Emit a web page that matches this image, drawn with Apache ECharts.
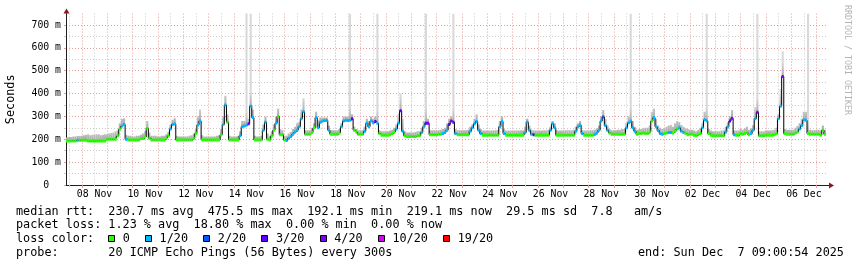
<!DOCTYPE html>
<html><head><meta charset="utf-8">
<script src="https://cdn.jsdelivr.net/npm/echarts@6/dist/echarts.min.js"></script>
<style>html,body{margin:0;padding:0;background:#fff}#c{width:857px;height:267px}</style>
</head><body><div id="c"></div>
<script>
// ---------- data (2-hour samples, first sample centred on Nov 7 10:00) ----------
const startTime = Date.UTC(2025, 10, 7, 9, 0);
const endTime = Date.UTC(2025, 11, 7, 9, 0);
const stepHours = 2;

const median = [
  193,193,193,193,193,196,196,                               // Nov 07 (10h..22h)
  196,196,196,192,192,192,192,192,192,192,192,192,           // Nov 08
  200,200,200,200,200,215,245,258,265,200,197,197,           // Nov 09
  197,197,197,197,203,203,210,248,205,197,197,197,           // Nov 10
  197,197,197,197,205,215,245,265,267,197,197,197,           // Nov 11
  197,197,197,197,197,205,225,262,280,198,197,197,           // Nov 12
  197,197,197,197,197,197,220,265,350,275,197,197,           // Nov 13
  197,197,197,215,255,258,262,268,345,295,197,197,           // Nov 14
  197,197,240,275,200,197,215,240,270,300,220,220,           // Nov 15
  197,195,205,212,222,232,240,255,290,320,222,222,           // Nov 16
  222,230,250,295,250,275,280,282,282,240,222,222,           // Nov 17
  222,222,228,255,280,283,282,283,290,240,232,222,           // Nov 18
  222,222,235,270,255,280,272,278,270,225,218,218,           // Nov 19
  218,218,220,225,232,245,270,325,235,215,212,212,           // Nov 20
  212,212,212,215,215,230,255,270,270,220,220,220,           // Nov 21
  220,222,222,225,230,240,265,280,275,225,220,220,           // Nov 22
  220,220,220,220,235,250,268,278,240,225,218,218,           // Nov 23
  218,218,218,218,218,218,255,278,225,218,218,218,           // Nov 24
  218,218,218,218,218,218,230,275,240,222,220,218,           // Nov 25
  218,218,218,218,218,218,240,268,250,218,218,218,           // Nov 26
  218,218,218,218,218,218,235,255,262,225,218,218,           // Nov 27
  218,218,218,222,228,240,280,298,260,240,228,222,           // Nov 28
  222,222,222,222,222,222,250,272,280,250,235,222,           // Nov 29
  225,225,228,225,225,232,280,295,255,238,225,222,           // Nov 30
  225,228,230,230,228,235,245,250,235,230,225,220,           // Dec 01
  222,222,218,215,222,225,250,285,280,225,218,215,           // Dec 02
  215,215,215,215,215,232,255,280,292,220,218,218,           // Dec 03
  225,222,225,230,220,225,240,290,318,215,215,215,           // Dec 04
  218,218,218,218,220,225,290,345,475,225,222,222,           // Dec 05
  222,222,228,232,245,260,285,283,225,222,222,222,           // Dec 06
  222,222,218,240,222                                        // Dec 07 (0h..8h)
];

const loss = [
  0,0,0,0,0,1,0,
  0,0,0,0,0,0,0,0,0,0,0,0,
  0,0,0,0,0,0,0,1,1,1,0,0,
  0,0,0,0,0,0,0,0,0,0,0,0,
  0,0,0,0,0,0,1,1,1,0,0,0,
  0,0,0,0,0,0,0,1,1,0,0,0,
  0,0,0,0,0,0,0,1,1,0,0,0,
  0,0,0,1,1,1,1,3,1,1,0,0,
  0,0,1,1,0,0,0,0,1,0,0,0,
  0,1,1,1,1,1,1,1,1,1,0,0,
  0,0,0,1,1,1,1,1,1,1,0,0,
  0,0,0,1,1,1,1,1,3,0,0,0,
  0,0,1,1,1,1,1,3,1,0,0,0,
  0,0,0,0,0,1,1,3,1,0,0,0,
  0,0,0,0,0,1,1,3,4,0,0,0,
  0,0,0,1,1,1,3,4,3,1,0,0,
  0,0,0,0,1,1,1,1,1,1,0,0,
  0,0,0,0,0,0,1,1,1,0,0,0,
  0,0,0,0,0,0,1,1,1,1,3,0,
  0,0,0,0,0,0,1,1,1,0,0,0,
  0,0,0,0,0,0,1,1,1,1,0,0,
  0,0,0,1,1,1,1,2,1,1,0,0,
  0,0,0,0,0,0,1,1,1,1,1,0,
  0,0,0,0,0,0,0,1,1,1,1,1,
  0,0,1,1,0,0,0,1,1,1,0,0,
  0,0,0,0,0,0,1,1,1,0,0,0,
  0,0,0,0,0,1,1,3,4,1,0,0,
  0,0,0,0,0,1,1,1,4,0,0,0,
  0,0,0,0,0,0,1,1,4,0,0,0,
  0,0,0,0,1,1,1,1,0,0,0,0,
  0,0,0,0,0
];

const smokeHi = [
  208,210,210,212,212,214,214,
  215,218,220,222,218,220,220,222,222,218,220,222,
  222,225,228,230,235,240,270,290,292,220,215,215,
  212,212,215,215,220,225,235,280,230,215,215,215,
  212,212,215,215,222,232,265,285,292,215,212,212,
  212,212,212,215,218,225,245,300,330,218,212,212,
  212,212,212,212,215,218,245,300,390,310,215,212,
  212,212,215,235,280,280,750,290,750,330,215,212,
  212,215,265,300,225,215,235,265,300,335,245,240,
  215,215,225,232,245,255,270,275,330,380,240,240,
  240,250,270,320,285,295,295,295,295,260,240,240,
  240,240,245,270,300,300,300,750,310,255,245,240,
  240,240,255,290,280,300,290,300,750,240,235,235,
  235,235,238,242,250,265,310,400,290,235,230,230,
  230,230,232,235,235,250,280,750,290,240,240,240,
  240,240,242,245,250,270,290,300,750,245,240,240,
  240,240,240,242,255,265,290,310,265,245,238,238,
  238,238,238,240,240,242,280,300,245,238,238,238,
  238,238,238,238,240,240,255,290,260,242,240,238,
  238,238,238,240,240,242,255,280,270,240,238,238,
  238,240,240,240,240,242,255,270,280,240,238,238,
  238,240,240,242,248,260,300,328,290,260,245,240,
  240,240,242,242,245,245,270,300,750,280,255,242,
  245,245,248,250,250,260,320,335,290,260,250,245,
  248,255,260,262,255,270,280,275,262,255,248,245,
  242,242,238,235,242,248,270,320,750,245,238,235,
  235,235,235,238,240,255,275,300,328,240,238,238,
  245,242,248,255,242,248,262,340,750,235,235,235,
  238,238,238,240,242,250,310,420,585,245,242,242,
  242,242,250,258,270,290,320,320,750,242,240,240,
  242,242,240,260,242
];

const xLabelDays = ['2025-11-08','2025-11-10','2025-11-12','2025-11-14','2025-11-16','2025-11-18','2025-11-20',
  '2025-11-22','2025-11-24','2025-11-26','2025-11-28','2025-11-30','2025-12-02','2025-12-04','2025-12-06'];
const xLabels = ['08 Nov','10 Nov','12 Nov','14 Nov','16 Nov','18 Nov','20 Nov',
  '22 Nov','24 Nov','26 Nov','28 Nov','30 Nov','02 Dec','04 Dec','06 Dec'];
const yTicks = [0,100,200,300,400,500,600,700];
const yMinorTicks = [50,150,250,350,450,550,650];
const yMax = 750;

const lossLevels = [0,1,2,3,4,10,19];
const lossLabels = ['0','1/20','2/20','3/20','4/20','10/20','19/20'];
const lossColors = ['#26ff00','#00b8ff','#0059ff','#5e00ff','#7e00ff','#dd00ff','#ff0000'];

const statsLine1 = 'median rtt:  230.7 ms avg  475.5 ms max  192.1 ms min  219.1 ms now  29.5 ms sd  7.8   am/s';
const statsLine2 = 'packet loss: 1.23 % avg  18.80 % max  0.00 % min  0.00 % now';
const lossTitle = 'loss color:';
const probeLine = 'probe:       20 ICMP Echo Pings (56 Bytes) every 300s';
const endLine = 'end: Sun Dec  7 09:00:54 2025';
const sideText = 'RRDTOOL / TOBI OETIKER';

// ---------- build ----------
const HOUR = 3600000, DAY = 24 * HOUR;
const halfStep = stepHours * HOUR / 2;
function lossColor(l) {
  let c = lossColors[0];
  for (let k = 0; k < lossLevels.length; k++) if (l >= lossLevels[k]) c = lossColors[k];
  return c;
}
const rows = median.map((v, i) => [startTime + halfStep + i * stepHours * HOUR, v, loss[i], smokeHi[i]]);

const midnights = [], noons = [];
for (let t = Date.UTC(2025, 10, 7); t <= endTime; t += DAY) {
  if (t >= startTime) midnights.push(t);
  if (t + DAY / 2 >= startTime && t + DAY / 2 <= endTime) noons.push(t + DAY / 2);
}
const labelTimes = xLabelDays.map(d => Date.parse(d + 'T12:00:00Z'));
const labelMap = {};
labelTimes.forEach((t, i) => labelMap[t] = xLabels[i]);

const MONO = '"DejaVu Sans Mono", monospace';
const major = '#e49c9c', minor = '#cbcbcb', axisCol = '#202020', arrowCol = '#8b1a1a';

const chart = echarts.init(document.getElementById('c'), null, {renderer: 'canvas'});

const graphics = [];
function txt(x, y, s, extra) {
  graphics.push(Object.assign({type: 'text', x: x, y: y, silent: true,
    style: {text: s, font: '11.8px ' + MONO, fill: '#000', align: 'left', verticalAlign: 'middle',
            textAlign: 'left', textVerticalAlign: 'middle'}}, extra || {}));
}
txt(16, 211.5, statsLine1);
txt(16, 225.4, statsLine2);
txt(16, 239.3, lossTitle);
txt(16, 253.3, probeLine);
txt(638, 253.3, endLine);
let lx = 108;
lossLabels.forEach((lab, k) => {
  graphics.push({type: 'rect', silent: true, shape: {x: Math.round(lx) + 0.5, y: 235.5, width: 6, height: 6},
    style: {fill: lossColors[k], stroke: '#000', lineWidth: 1}});
  const tx = lx + 14.7;
  txt(tx, 239.3, lab);
  lx = tx + lab.length * 7.1 + 15.1;
});
graphics.push({type: 'text', x: 847, y: 5, rotation: -Math.PI / 2, silent: true,
  style: {text: sideText, font: '8.3px ' + MONO, fill: '#b4b4b4', align: 'left', verticalAlign: 'middle',
          textAlign: 'left', textVerticalAlign: 'middle'}});
// axis arrows
graphics.push({type: 'polygon', silent: true, shape: {points: [[66.5, 8.5], [63.5, 13.6], [69.5, 13.6]]}, style: {fill: arrowCol}});
graphics.push({type: 'line', silent: true, shape: {x1: 826, y1: 185.5, x2: 829, y2: 185.5}, style: {stroke: axisCol, lineWidth: 1}});
graphics.push({type: 'polygon', silent: true, shape: {points: [[834, 185.5], [829, 182.5], [829, 188.5]]}, style: {fill: arrowCol}});

const option = {
  animation: false,
  backgroundColor: '#ffffff',
  grid: {left: 66, right: 31, top: 13.6, bottom: 82, containLabel: false, outerBoundsMode: 'none'},
  xAxis: [
    {type: 'value', min: startTime, max: endTime, position: 'bottom',
     axisLine: {show: true, onZero: false, lineStyle: {color: axisCol, width: 1}},
     axisTick: {show: true, customValues: midnights, length: 3, lineStyle: {color: major}},
     axisLabel: {show: true, customValues: labelTimes, formatter: v => labelMap[v] || '',
       fontFamily: MONO, fontSize: 9.8, color: '#000', margin: 4, hideOverlap: false},
     splitLine: {show: true, lineStyle: {color: major, type: [1, 2], width: 1}}},
    {type: 'value', min: startTime, max: endTime, position: 'bottom',
     axisLine: {show: false}, axisLabel: {show: false},
     axisTick: {show: true, customValues: noons, length: 2, lineStyle: {color: minor}},
     splitLine: {show: true, lineStyle: {color: minor, type: [1, 2], width: 1}}}
  ],
  yAxis: [
    {type: 'value', min: 0, max: yMax, position: 'left',
     axisLine: {show: true, onZero: false, lineStyle: {color: axisCol, width: 1}},
     axisTick: {show: true, customValues: yTicks, length: 2, lineStyle: {color: major}},
     axisLabel: {customValues: yTicks, formatter: v => v === 0 ? '0  ' : v + ' m',
       fontFamily: MONO, fontSize: 9.8, color: '#000', margin: 5},
     splitLine: {show: true, lineStyle: {color: major, type: [1, 2], width: 1}},
     name: 'Seconds', nameLocation: 'middle', nameGap: 49, nameRotate: 90,
     nameTextStyle: {fontFamily: MONO, fontSize: 11.8, color: '#000'}},
    {type: 'value', min: 0, max: yMax, position: 'left',
     axisLine: {show: false}, axisLabel: {show: false},
     axisTick: {show: true, customValues: yMinorTicks, length: 2, lineStyle: {color: minor}},
     splitLine: {show: true, lineStyle: {color: minor, type: [1, 2], width: 1}}}
  ],
  series: [
    {type: 'custom', name: 'smoke', xAxisIndex: 0, yAxisIndex: 0, clip: true, z: 1, silent: true,
     encode: {x: 0, y: 1}, data: rows,
     renderItem: function (params, api) {
       const t = api.value(0), m = api.value(1), h = api.value(3);
       const a = api.coord([t - halfStep, h]), b = api.coord([t + halfStep, m]);
       return {type: 'rect', shape: {x: a[0], y: a[1], width: b[0] - a[0], height: b[1] - a[1]},
         style: {fill: new echarts.graphic.LinearGradient(0, b[1], 0, b[1] - 14,
           [{offset: 0, color: '#a9a9a9'}, {offset: 1, color: '#d9d9d9'}], true)}};
     }},
    {type: 'line', name: 'median', xAxisIndex: 0, yAxisIndex: 0, z: 2, silent: true,
     data: rows.map(r => [r[0], r[1]]), step: 'middle', showSymbol: false, symbol: 'none',
     lineStyle: {color: '#000', width: 1}},
    {type: 'custom', name: 'loss', xAxisIndex: 0, yAxisIndex: 0, clip: true, z: 3, silent: true,
     encode: {x: 0, y: 1}, data: rows,
     renderItem: function (params, api) {
       const t = api.value(0), v = api.value(1), l = api.value(2);
       const a = api.coord([t - halfStep, v]), b = api.coord([t + halfStep, v]);
       return {type: 'rect', shape: {x: a[0], y: a[1] - 1.5, width: b[0] - a[0], height: 3},
         style: {fill: lossColor(l)}};
     }}
  ],
  graphic: graphics
};
chart.setOption(option);
</script>
</body></html>
